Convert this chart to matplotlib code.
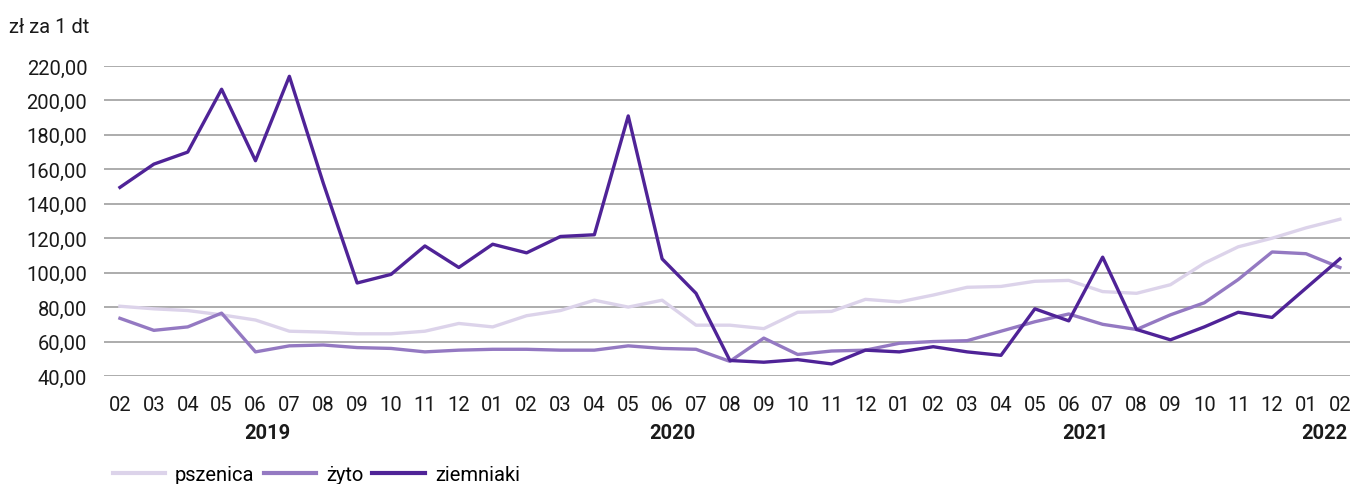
import numpy as np
import matplotlib
matplotlib.use('Agg')
import matplotlib.pyplot as plt

plt.rcParams['font.family'] = ['Roboto', 'DejaVu Sans']

miesiace = ['02', '03', '04', '05', '06', '07', '08', '09', '10', '11', '12',
            '01', '02', '03', '04', '05', '06', '07', '08', '09', '10', '11', '12',
            '01', '02', '03', '04', '05', '06', '07', '08', '09', '10', '11', '12',
            '01', '02']

lata = ['2019', '2020', '2021', '2022']
lata_poz = [4.35, 16.3, 28.5, 35.55]  # pozycje podpisów lat (indeks miesiąca)

pszenica = [80.5, 79, 78, 75.5, 72.5, 66, 65.5, 64.5, 64.5, 66, 70.5,
            68.5, 75, 78, 84, 80, 84, 69.5, 69.5, 67.5, 77, 77.5, 84.5,
            83, 87, 91.5, 92, 95, 95.5, 89, 88, 93, 105.5, 115, 120,
            126, 131]

zyto = [73.5, 66.5, 68.5, 76.5, 54, 57.5, 58, 56.5, 56, 54, 55,
        55.5, 55.5, 55, 55, 57.5, 56, 55.5, 48.5, 62, 52.5, 54.5, 55,
        59, 60, 60.5, 66, 71.5, 76, 70, 67, 75.5, 82.5, 96, 112,
        111, 103]

ziemniaki = [149.5, 163, 170, 206.5, 165, 214, 152, 94, 99, 115.5, 103,
             116.5, 111.5, 121, 122, 191, 108, 88, 49, 48, 49.5, 47, 55,
             54, 57, 54, 52, 79, 72, 109, 67, 61, 68.5, 77, 74,
             91, 108]

fig = plt.figure(figsize=(13.56, 4.85), dpi=100)
ax = fig.add_axes([0.0767, 0.2227, 0.9189, 0.6392])

x = np.arange(len(miesiace))
ax.plot(x, pszenica, color='#dcd3ea', lw=2.4, label='pszenica', clip_on=False, solid_joinstyle='round')
ax.plot(x, zyto, color='#9479c2', lw=2.4, label='żyto', clip_on=False, solid_joinstyle='round')
ax.plot(x, ziemniaki, color='#4f2397', lw=2.4, label='ziemniaki', clip_on=False, solid_joinstyle='round')

ax.set_ylim(40, 220)
ax.set_xlim(-0.47, 36.3)
ax.set_yticks(np.arange(40, 221, 20))
ax.yaxis.set_major_formatter(matplotlib.ticker.FuncFormatter(lambda v, p: ('%.2f' % v).replace('.', ',')))
ax.set_xticks(x)
ax.set_xticklabels(miesiace)
ax.tick_params(axis='both', length=0, labelsize=14.5, colors='#1a1a1a')
ax.tick_params(axis='x', pad=14)
ax.tick_params(axis='y', pad=12)
ax.grid(axis='y', color='#a6a6a6', lw=1.3)
ax.set_axisbelow(True)
for s in ax.spines.values():
    s.set_visible(False)

for t, p in zip(lata, lata_poz):
    ax.text(p, -0.181, t, transform=ax.get_xaxis_transform(), ha='center', va='center',
            fontsize=14.5, fontweight='bold', color='#1a1a1a')

fig.text(0.007, 0.944, 'zł za 1 dt', fontsize=14.5, color='#1a1a1a', va='center')

leg = ax.legend(loc='center left', bbox_to_anchor=(0.083, 0.02), bbox_transform=fig.transFigure,
                ncol=3, frameon=False, fontsize=14.5, handlelength=2.6, handletextpad=0.5,
                columnspacing=0.45, borderaxespad=0, borderpad=0)
for h in leg.get_lines():
    h.set_linewidth(3)

fig.savefig('out.png', dpi=100)
